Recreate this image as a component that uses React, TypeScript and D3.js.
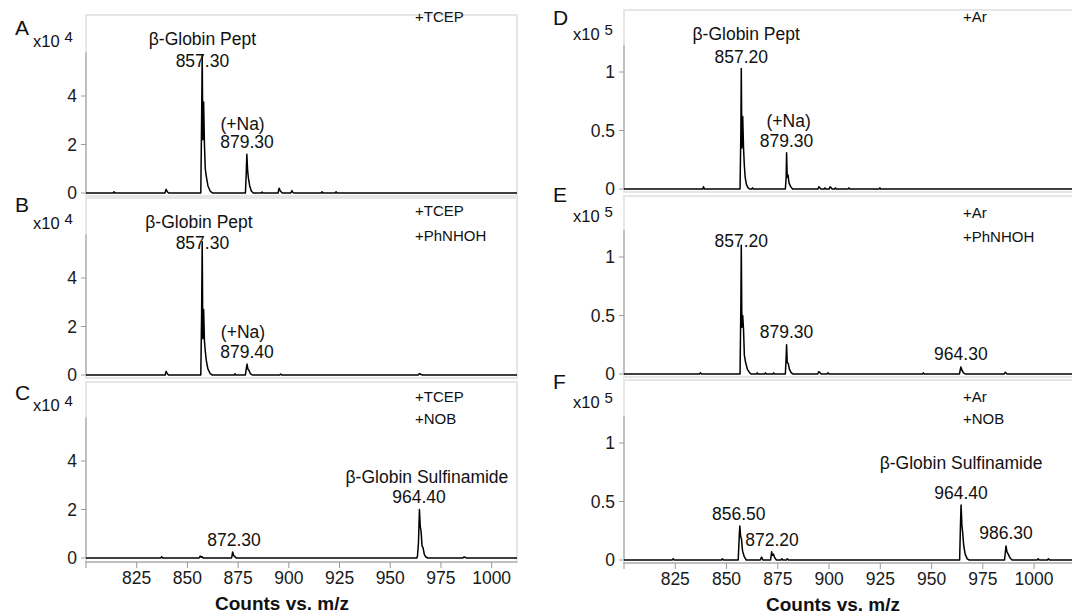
import React from "react";
import * as d3 from "d3";

type Pt = [number, number];
type Label = { text: string; mz: number; v: number };

// ---------- data ----------
const xTicks = [800, 825, 850, 875, 900, 925, 950, 975, 1000];
const xTickLabels = ["", "825", "850", "875", "900", "925", "950", "975", "1000"];
const yTicksLeft = [0, 2, 4];
const yTickLabelsLeft = ["0", "2", "4"];
const yTicksRight = [0, 0.5, 1];
const yTickLabelsRight = ["0", "0.5", "1"];
const panelLetters = ["A", "B", "C", "D", "E", "F"];
const panelExponents = ["4", "4", "4", "5", "5", "5"];
const xTitle = "Counts vs. m/z";

const notesA = ["+TCEP"];
const notesB = ["+TCEP", "+PhNHOH"];
const notesC = ["+TCEP", "+NOB"];
const notesD = ["+Ar"];
const notesE = ["+Ar", "+PhNHOH"];
const notesF = ["+Ar", "+NOB"];

// intensities in x10^4
const spectrumA: Pt[] = [
  [800, 0], [813.4, 0], [813.8, 0.05], [814.2, 0],
  [838.9, 0], [839.5, 0.15], [840.1, 0.05], [840.7, 0],
  [856.6, 0], [857.0, 3.0], [857.3, 5.7], [857.6, 2.2], [858.0, 3.75], [858.4, 2.0], [858.8, 1.0], [859.3, 0.7], [860.1, 0.3], [861.2, 0.08], [862.4, 0],
  [878.6, 0], [879.0, 0.8], [879.3, 1.6], [879.7, 0.9], [880.1, 0.6], [880.7, 0.3], [881.5, 0.08], [882.5, 0],
  [886.4, 0], [886.8, 0.04], [887.2, 0],
  [894.7, 0], [895.2, 0.2], [895.8, 0.08], [896.3, 0.04], [896.8, 0],
  [901.0, 0], [901.5, 0.1], [902.0, 0.03], [902.5, 0],
  [916.0, 0], [916.4, 0.05], [916.8, 0],
  [922.9, 0], [923.3, 0.05], [923.7, 0],
  [1012.5, 0],
];
const spectrumB: Pt[] = [
  [800, 0], [839.0, 0], [839.5, 0.15], [840.1, 0.05], [840.7, 0],
  [856.6, 0], [857.0, 2.5], [857.3, 5.5], [857.6, 1.5], [858.0, 2.7], [858.4, 1.4], [858.8, 1.0], [859.3, 0.6], [860.1, 0.25], [861.2, 0.06], [862.3, 0],
  [873.1, 0], [873.5, 0.05], [873.9, 0],
  [878.6, 0], [879.1, 0.3], [879.4, 0.45], [879.8, 0.25], [880.3, 0.2], [881.0, 0.06], [882.0, 0],
  [895.5, 0], [896.0, 0.04], [896.5, 0],
  [963.8, 0], [964.4, 0.06], [965.2, 0.02], [966.0, 0],
  [1012.5, 0],
];
const spectrumC: Pt[] = [
  [800, 0], [836.8, 0], [837.3, 0.05], [837.8, 0],
  [855.8, 0], [856.3, 0.08], [856.8, 0.03], [857.3, 0.05], [857.8, 0],
  [871.8, 0], [872.3, 0.25], [872.8, 0.1], [873.4, 0.06], [874.0, 0],
  [963.0, 0], [963.4, 0.05], [963.9, 0.6], [964.4, 2.0], [964.8, 1.3], [965.2, 1.1], [965.7, 0.5], [966.2, 0.42], [966.8, 0.15], [967.6, 0.04], [968.5, 0],
  [985.8, 0], [986.3, 0.04], [987.0, 0.03], [987.5, 0],
  [1012.5, 0],
];
// intensities in x10^5
const spectrumD: Pt[] = [
  [800, 0], [838.4, 0], [838.8, 0.02], [839.2, 0],
  [856.6, 0], [857.0, 0.5], [857.2, 1.03], [857.5, 0.35], [857.9, 0.62], [858.3, 0.35], [858.7, 0.2], [859.1, 0.1], [859.7, 0.04], [860.5, 0.01], [861.3, 0],
  [862.3, 0], [862.7, 0.01], [863.1, 0],
  [878.7, 0], [879.1, 0.1], [879.3, 0.31], [879.6, 0.1], [880.0, 0.12], [880.5, 0.05], [881.3, 0.02], [882.2, 0],
  [894.6, 0], [895.0, 0.02], [895.5, 0.01], [896.0, 0],
  [897.6, 0], [898.0, 0.01], [898.4, 0],
  [900.1, 0], [900.5, 0.02], [901.0, 0.01], [901.5, 0],
  [902.7, 0], [903.1, 0.01], [903.5, 0],
  [909.3, 0], [909.7, 0.01], [910.1, 0],
  [924.4, 0], [924.8, 0.01], [925.2, 0],
  [1018.5, 0],
];
const spectrumE: Pt[] = [
  [800, 0], [836.8, 0], [837.3, 0.01], [837.8, 0],
  [856.6, 0], [857.0, 0.6], [857.2, 1.1], [857.5, 0.4], [857.9, 0.5], [858.3, 0.38], [858.7, 0.16], [859.3, 0.1], [860.2, 0.04], [861.3, 0.01], [862.0, 0],
  [864.6, 0], [865.0, 0.01], [865.4, 0],
  [868.6, 0], [869.0, 0.01], [869.4, 0],
  [872.6, 0], [873.0, 0.01], [873.4, 0],
  [878.7, 0], [879.1, 0.15], [879.3, 0.25], [879.6, 0.1], [880.1, 0.09], [880.7, 0.04], [881.6, 0.01], [882.5, 0],
  [894.5, 0], [895.0, 0.02], [895.6, 0.01], [896.2, 0],
  [899.0, 0], [899.5, 0.01], [900.0, 0],
  [945.6, 0], [946.0, 0.01], [946.4, 0],
  [963.6, 0], [964.3, 0.06], [964.9, 0.03], [965.6, 0.01], [966.4, 0],
  [985.4, 0], [986.0, 0.015], [986.8, 0],
  [1018.5, 0],
];
const spectrumF: Pt[] = [
  [800, 0], [823.5, 0], [824.0, 0.01], [824.5, 0],
  [847.5, 0], [848.0, 0.01], [848.5, 0],
  [855.7, 0], [856.2, 0.2], [856.5, 0.29], [856.9, 0.2], [857.3, 0.18], [857.8, 0.08], [858.6, 0.03], [859.6, 0],
  [866.5, 0], [867.1, 0.025], [867.7, 0],
  [871.5, 0], [872.0, 0.07], [872.4, 0.04], [872.9, 0.05], [873.5, 0.02], [874.3, 0],
  [876.5, 0], [877.0, 0.01], [877.5, 0],
  [879.2, 0], [879.7, 0.01], [880.2, 0],
  [963.7, 0], [964.1, 0.3], [964.4, 0.47], [964.8, 0.3], [965.2, 0.23], [965.7, 0.12], [966.4, 0.05], [967.4, 0.01], [968.4, 0],
  [985.6, 0], [986.3, 0.12], [986.8, 0.07], [987.4, 0.05], [988.2, 0.02], [989.3, 0],
  [1001.5, 0], [1002.0, 0.01], [1002.5, 0],
  [1006.5, 0], [1007.0, 0.01], [1007.5, 0],
  [1018.5, 0],
];

const labelsA: Label[] = [
  { text: "β-Globin Pept", mz: 857.4, v: 6.1 },
  { text: "857.30", mz: 857.4, v: 5.2 },
  { text: "(+Na)", mz: 877.2, v: 2.6 },
  { text: "879.30", mz: 879.4, v: 1.86 },
];
const labelsB: Label[] = [
  { text: "β-Globin Pept", mz: 855.7, v: 6.06 },
  { text: "857.30", mz: 857.4, v: 5.2 },
  { text: "(+Na)", mz: 877.4, v: 1.53 },
  { text: "879.40", mz: 879.4, v: 0.7 },
];
const labelsC: Label[] = [
  { text: "β-Globin Sulfinamide", mz: 968.1, v: 3.09 },
  { text: "964.40", mz: 964.2, v: 2.27 },
  { text: "872.30", mz: 873.0, v: 0.5 },
];
const labelsD: Label[] = [
  { text: "β-Globin Pept", mz: 859.6, v: 1.27 },
  { text: "857.20", mz: 857.2, v: 1.08 },
  { text: "(+Na)", mz: 880.3, v: 0.53 },
  { text: "879.30", mz: 879.3, v: 0.36 },
];
const labelsE: Label[] = [
  { text: "857.20", mz: 857.2, v: 1.085 },
  { text: "879.30", mz: 879.3, v: 0.31 },
  { text: "964.30", mz: 964.3, v: 0.12 },
];
const labelsF: Label[] = [
  { text: "β-Globin Sulfinamide", mz: 964.4, v: 0.78 },
  { text: "964.40", mz: 964.4, v: 0.52 },
  { text: "856.50", mz: 856.0, v: 0.34 },
  { text: "872.20", mz: 872.2, v: 0.12 },
  { text: "986.30", mz: 986.3, v: 0.18 },
];

// ---------- layout ----------
const FONT = "'Liberation Sans', Arial, Helvetica, sans-serif";
const FRAME = "#e6e6e6";
const AXIS = "#9a9a9a";

interface ColLayout {
  x0: number; x1: number; xDomain: [number, number];
  pxPerUnit: number; axisTop: number; yTicks: number[]; yTickLabels: string[];
  letterX: number; expX: number; noteX: number; titleX: number; extend: number;
}
const leftCol: ColLayout = {
  x0: 86, x1: 517, xDomain: [800, 1012.5], pxPerUnit: 24.25, axisTop: 5.8,
  yTicks: yTicksLeft, yTickLabels: yTickLabelsLeft, letterX: 15, expX: 33, noteX: 415, titleX: 282, extend: 0,
};
const rightCol: ColLayout = {
  x0: 624, x1: 1072, xDomain: [800, 1018.5], pxPerUnit: 117, axisTop: 1.23,
  yTicks: yTicksRight, yTickLabels: yTickLabelsRight, letterX: 553, expX: 573, noteX: 963, titleX: 833, extend: 10,
};

interface RowLayout {
  top: number; baseline: number; bottom: number;
  letterY: number; expY: number; noteY: number[]; xAxis: boolean;
}

const panels: { col: ColLayout; row: RowLayout; data: Pt[]; labels: Label[]; notes: string[]; idx: number }[] = [
  { idx: 0, col: leftCol, data: spectrumA, labels: labelsA, notes: notesA,
    row: { top: 15, baseline: 193, bottom: 196, letterY: 35, expY: 47, noteY: [22], xAxis: false } },
  { idx: 1, col: leftCol, data: spectrumB, labels: labelsB, notes: notesB,
    row: { top: 198, baseline: 375, bottom: 378, letterY: 212, expY: 229, noteY: [216, 241], xAxis: false } },
  { idx: 2, col: leftCol, data: spectrumC, labels: labelsC, notes: notesC,
    row: { top: 382, baseline: 558, bottom: 562, letterY: 400, expY: 411, noteY: [402, 424], xAxis: true } },
  { idx: 3, col: rightCol, data: spectrumD, labels: labelsD, notes: notesD,
    row: { top: 10, baseline: 189, bottom: 192, letterY: 25, expY: 40, noteY: [22], xAxis: false } },
  { idx: 4, col: rightCol, data: spectrumE, labels: labelsE, notes: notesE,
    row: { top: 196, baseline: 374, bottom: 377, letterY: 202, expY: 222, noteY: [218, 242], xAxis: false } },
  { idx: 5, col: rightCol, data: spectrumF, labels: labelsF, notes: notesF,
    row: { top: 380, baseline: 560, bottom: 563, letterY: 389, expY: 408, noteY: [402, 424], xAxis: true } },
];

function Panel({ p }: { p: typeof panels[number] }) {
  const { col, row } = p;
  const x = d3.scaleLinear().domain(col.xDomain).range([col.x0, col.x1]);
  const y = d3.scaleLinear().domain([0, col.axisTop]).range([row.baseline, row.baseline - col.axisTop * col.pxPerUnit]);
  const line = d3.line<Pt>().x((d) => x(d[0])).y((d) => y(d[1]));
  const ax = col.x0;
  return (
    <g>
      <rect x={col.x0} y={row.top} width={col.x1 - col.x0 + col.extend} height={row.bottom - row.top}
        fill="none" stroke={FRAME} strokeWidth={2} />
      {/* y axis */}
      <line x1={ax} x2={ax} y1={y(col.axisTop)} y2={row.baseline} stroke={AXIS} strokeWidth={1} />
      {col.yTicks.map((t, i) => (
        <g key={t}>
          <line x1={ax - 5} x2={ax} y1={y(t)} y2={y(t)} stroke={AXIS} strokeWidth={1} />
          <text x={ax - 9} y={y(t)} dy="0.35em" textAnchor="end" fontSize={17.5} fill="#1a1a1a">{col.yTickLabels[i]}</text>
        </g>
      ))}
      {/* x axis */}
      {row.xAxis && (
        <g>
          <line x1={col.x0 - 1} x2={col.x1} y1={row.bottom} y2={row.bottom} stroke={AXIS} strokeWidth={1} />
          {xTicks.map((t, i) => (
            <g key={t}>
              <line x1={x(t)} x2={x(t)} y1={row.bottom} y2={row.bottom + 6} stroke={AXIS} strokeWidth={1} />
              <text x={x(t)} y={row.bottom + 22} textAnchor="middle" fontSize={17.5} fill="#1a1a1a">{xTickLabels[i]}</text>
            </g>
          ))}
          <text x={col.titleX} y={row.bottom + 48} textAnchor="middle" fontSize={19} fontWeight="bold" fill="#111">{xTitle}</text>
        </g>
      )}
      {/* spectrum */}
      <path d={line(p.data) ?? ""} fill="none" stroke="#000" strokeWidth={1.5} strokeLinejoin="round" />
      {/* peak labels */}
      {p.labels.map((l, i) => (
        <text key={i} x={x(l.mz)} y={y(l.v)} textAnchor="middle" fontSize={17.5} fill="#111">{l.text}</text>
      ))}
      {/* conditions */}
      {p.notes.map((n, i) => (
        <text key={n} x={col.noteX} y={row.noteY[i]} fontSize={15} fill="#111">{n}</text>
      ))}
      {/* panel letter and exponent */}
      <text x={col.letterX} y={row.letterY} fontSize={21} fill="#111">{panelLetters[p.idx]}</text>
      <text x={col.expX} y={row.expY} fontSize={16.5} fill="#111">
        x10
        <tspan dx={5} dy={-5} fontSize={15}>{panelExponents[p.idx]}</tspan>
      </text>
    </g>
  );
}

export default function App() {
  return (
    <svg width={1072} height={615} style={{ position: "absolute", left: 0, top: 0, background: "#fff" }}
      fontFamily={FONT}>
      <rect x={0} y={0} width={1072} height={615} fill="#fff" />
      {panels.map((p) => <Panel key={p.idx} p={p} />)}
    </svg>
  );
}
